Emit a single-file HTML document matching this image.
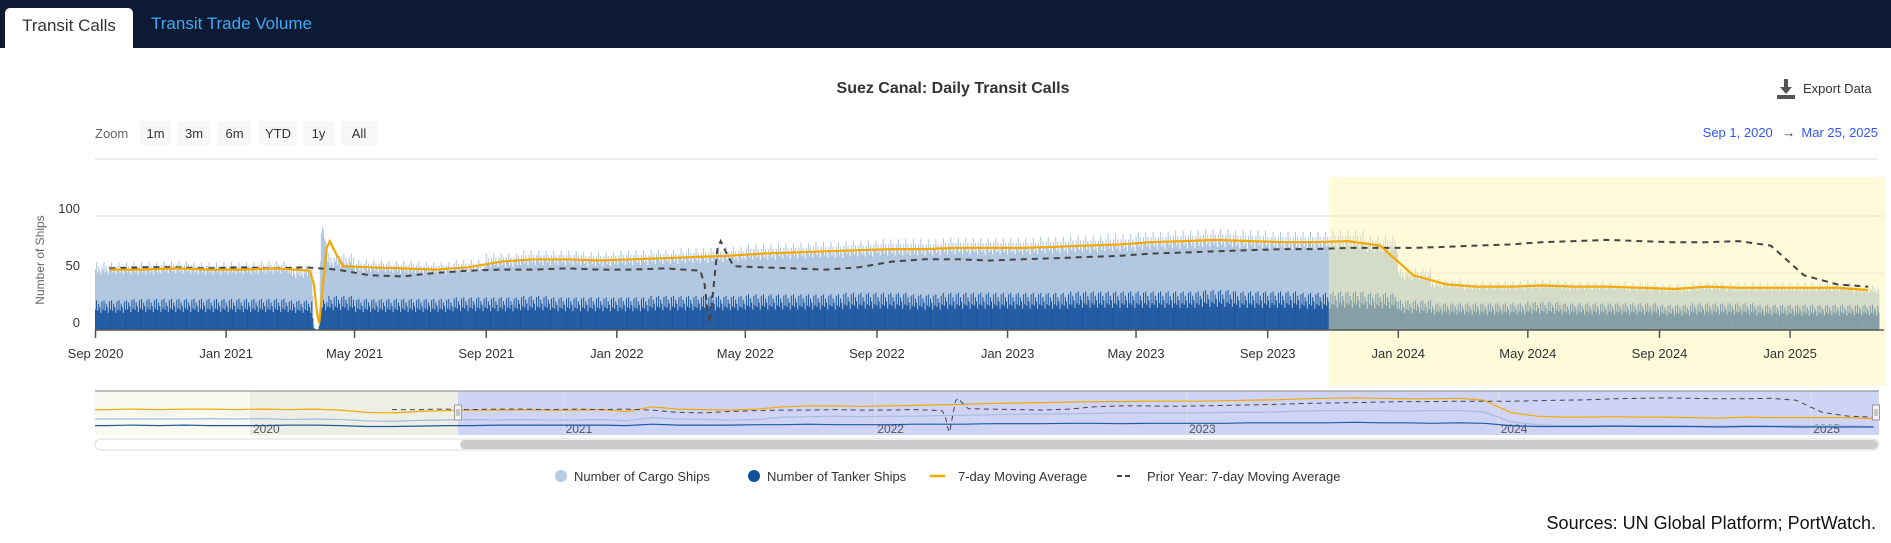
<!DOCTYPE html>
<html><head><meta charset="utf-8">
<style>
body{margin:0;width:1891px;height:543px;background:#fff;font-family:"Liberation Sans",sans-serif;overflow:hidden;position:relative}
.topbar{position:absolute;left:0;top:0;width:1891px;height:48px;background:#0c1a33}
.tab{position:absolute;top:0;height:48px;line-height:50px;font-size:17px}
.tab.active{left:5px;top:8px;height:40px;line-height:36px;width:128px;background:#fff;color:#333;border-radius:5px 5px 0 0;text-align:center}
.tab.other{left:151px;color:#3fa9f5;top:6px;line-height:36px}
svg{position:absolute;left:0;top:0}
</style></head><body>
<div class="topbar">
<div class="tab active">Transit Calls</div>
<div class="tab other">Transit Trade Volume</div>
</div>
<svg id="chart" width="1891" height="543" xmlns="http://www.w3.org/2000/svg" font-family="Liberation Sans, sans-serif">
<text x="953" y="93" text-anchor="middle" font-size="16" font-weight="bold" fill="#333">Suez Canal: Daily Transit Calls</text>
<g>
<path d="M1784 79 h4 v8 h4 l-6 7 l-6 -7 h4 z M1777 95 h18 v4 h-18 z" fill="#555"/>
<text x="1803" y="93" font-size="13" fill="#333">Export Data</text>
</g>
<text x="95" y="138" font-size="13" fill="#666">Zoom</text>
<g id="zoombtns"></g>
<text x="1878" y="137" text-anchor="end" font-size="13" fill="#3355ff">Sep 1, 2020 <tspan fill="#333" dx="6">→</tspan><tspan dx="6">Mar 25, 2025</tspan></text>
<line x1="95" y1="159" x2="1878" y2="159" stroke="#e6e6e6" stroke-width="1.5"/>
<g id="grid"></g>
<g id="bars"></g>
<rect id="hl" y="177" height="209" fill="rgb(255,245,170)" fill-opacity="0.45"/>
<g id="lines"></g>
<g id="axes"></g>
<g id="nav"></g>
<g id="legend"></g>
<text x="1876" y="529" text-anchor="end" font-size="18" fill="#111">Sources: UN Global Platform; PortWatch.</text>
</svg>
<script>
// Monthly 7-day-average total transits, Jun 2019 .. Mar 2025
const totalMonthly=[54,54,55,54,55,55,54,
55,54,55,53,48,47,50,52,53,53,54,53,
53,54,50,60,55,54,53,55,60,62,62,61,
62,63,64,65,67,68,69,70,71,71,72,72,
72,73,74,75,77,78,79,78,77,77,78,74,
48,40,38,38,39,38,38,37,36,38,37,37,
37,37,35];
// Monthly tanker transits, Jun 2019 .. Mar 2025
const tankerMonthly=[20,20,21,20,21,20,20,
20,21,21,20,18,18,19,20,20,21,21,21,
21,21,20,23,21,21,21,22,22,23,22,22,
22,23,23,23,24,24,24,25,25,24,25,25,
25,25,26,26,26,26,27,26,26,25,26,25,
20,18,18,18,19,18,18,18,17,18,18,17,
17,17,17];
// Day-of-week factors (read from weekly oscillation)
const dowTotal=[0.92,1.06,1.0,1.12,0.95,1.06,0.98];
const dowTanker=[0.75,1.25,0.9,1.3,0.85,1.15,1.0];
// Ever Given disruption daily totals (Mar 23 .. Apr 5, 2021)
const egDates=["2021-03-23","2021-03-24","2021-03-25","2021-03-26","2021-03-27","2021-03-28","2021-03-29","2021-03-30","2021-03-31","2021-04-01","2021-04-02","2021-04-03","2021-04-04","2021-04-05"];
const egTotals=[30,5,2,0,0,0,10,60,85,90,88,80,78,70];
// 7-day MA points around the disruption
const maEvtDates=["2021-03-20","2021-03-24","2021-03-27","2021-03-29","2021-04-01","2021-04-05","2021-04-08","2021-04-12","2021-04-20"];
const maEvtValues=[52,40,14,6,35,72,78,70,56];
const yTicks=[0,50,100];
const xTickLabels=["Sep 2020","Jan 2021","May 2021","Sep 2021","Jan 2022","May 2022","Sep 2022","Jan 2023","May 2023","Sep 2023","Jan 2024","May 2024","Sep 2024","Jan 2025"];
const xTickDates=["2020-09-01","2021-01-01","2021-05-01","2021-09-01","2022-01-01","2022-05-01","2022-09-01","2023-01-01","2023-05-01","2023-09-01","2024-01-01","2024-05-01","2024-09-01","2025-01-01"];
const navYears=["2020","2021","2022","2023","2024","2025"];
const zoomButtons=["1m","3m","6m","YTD","1y","All"];

const NS="http://www.w3.org/2000/svg";
const DAY=86400000;
const T0=Date.UTC(2020,8,1), TEND=Date.UTC(2025,2,25), N0=Date.UTC(2020,0,1);
const HL0=Date.UTC(2023,9,28);
function pd(s){const p=s.split('-');return Date.UTC(+p[0],+p[1]-1,+p[2]);}
function X(t){return 95.5+(t-T0)/DAY*1.0705;}
function Y(v){return 330-v*1.14;}
function XN(t){return Math.max(95,251+(t-N0)/DAY*0.854);}
function YN(v){return 435-v*0.47;}
function mk(tag,attrs,parent){const e=document.createElementNS(NS,tag);for(const k in attrs)e.setAttribute(k,attrs[k]);parent.appendChild(e);return e;}
function monthIdx(t){const d=new Date(t);return (d.getUTCFullYear()-2019)*12+d.getUTCMonth()-5;}
function mid(i){return Date.UTC(2019,5+i,15);}

const zx=[140,178,218,259,303,341],zw=[31,32,33,38,31,36];
const zb=document.getElementById('zoombtns');
zoomButtons.forEach((b,i)=>{const g=mk('g',{},zb);


mk('rect',{x:zx[i],y:121,width:zw[i],height:24,fill:'#f7f7f7'},g);
const t=mk('text',{x:zx[i]+zw[i]/2,y:138,'text-anchor':'middle','font-size':13,fill:'#333'},g);t.textContent=b;});

const grid=document.getElementById('grid');
yTicks.forEach(v=>{
 if(v>0){const l=mk('line',{x1:95,x2:1884,y1:Y(v),y2:Y(v),stroke:v==100?'#e6e6e6':'#eeeeee','stroke-width':1.5},grid);
 
 }
 const t=mk('text',{x:80,y:Y(v)-3,'text-anchor':'end','font-size':13,fill:'#333'},grid);t.textContent=v;
 
 
});
const yt=mk('text',{x:0,y:0,transform:'translate(44,260) rotate(-90)','text-anchor':'middle','font-size':12,fill:'#666'},grid);
yt.textContent='Number of Ships';



const egMap={};egDates.forEach((d,i)=>egMap[pd(d)]=egTotals[i]);
const bars=document.getElementById('bars');
let light='',dark='';
for(let t=T0;t<=TEND;t+=DAY){
 const mi=monthIdx(t),dw=new Date(t).getUTCDay();
 let tot=totalMonthly[mi]*dowTotal[dw];
 let tk=tankerMonthly[mi]*dowTanker[dw];
 if(egMap[t]!==undefined){tot=egMap[t];tk=Math.min(tk,tot*0.35);}
 const x=X(t).toFixed(2);
 light+=`M${x} ${Y(0)}V${Y(tot).toFixed(1)}`;
 dark+=`M${x} ${Y(0)}V${Y(tk).toFixed(1)}`;
}
const pl=mk('path',{d:light,stroke:'#b0c6e0','stroke-width':1.05,fill:'none'},bars);


const pk=mk('path',{d:dark,stroke:'#1a55a0','stroke-width':1.0,fill:'none'},bars);



const hl=document.getElementById('hl');hl.setAttribute('x',X(HL0));hl.setAttribute('width',1886-X(HL0));

let maPts=[];
totalMonthly.forEach((v,i)=>{const t=mid(i);if(!(t>Date.UTC(2021,2,10)&&t<Date.UTC(2021,3,25)))maPts.push([t,v]);});
maEvtDates.forEach((d,i)=>maPts.push([pd(d),maEvtValues[i]]));
maPts.sort((a,b)=>a[0]-b[0]);
const priorPts=maPts.map(p=>[p[0]+365*DAY,p[1]]);
function clipPath(pts,fx,fy,lo,hi){let s='';let first=true;pts.forEach(p=>{if(p[0]<lo||p[0]>hi)return;s+=(first?'M':'L')+fx(p[0]).toFixed(1)+' '+fy(p[1]).toFixed(1);first=false;});return s;}
const lines=document.getElementById('lines');
const hi=TEND;
const pp=mk('path',{d:clipPath(priorPts,X,Y,T0,hi),stroke:'#444','stroke-width':2,fill:'none','stroke-dasharray':'6,5'},lines);


const mp=mk('path',{d:clipPath(maPts,X,Y,T0,hi),stroke:'#f5a800','stroke-width':2.2,fill:'none'},lines);



const axes=document.getElementById('axes');
mk('line',{x1:95,x2:1884,y1:330,y2:330,stroke:'#555','stroke-width':1.5},axes);
xTickDates.forEach((d,i)=>{const x=X(pd(d));
 mk('line',{x1:x,x2:x,y1:330,y2:338,stroke:'#555','stroke-width':1.5},axes);
 const t=mk('text',{x:x,y:358,'text-anchor':'middle','font-size':13,fill:'#333'},axes);t.textContent=xTickLabels[i];
 
 
});

const nav=document.getElementById('nav');


mk('rect',{x:95,y:391,width:156,height:44,fill:'#fbfaf2'},nav);
mk('rect',{x:251,y:391,width:207,height:44,fill:'#eeeee6'},nav);
mk('rect',{x:458,y:391,width:1421,height:44,fill:'#cfd4f7'},nav);
const NS0=Date.UTC(2019,5,1);
navYears.forEach(y=>{const x=XN(Date.UTC(+y,0,1));
 mk('line',{x1:x,x2:x,y1:391,y2:435,stroke:'#e2e2e2'},nav);
 const t=mk('text',{x:x+2,y:433,'font-size':12,fill:'#555'},nav);t.textContent=y;});
const navTot=totalMonthly.map((v,i)=>[mid(i),v]);
const navTk=tankerMonthly.map((v,i)=>[mid(i),v]);
const navCg=totalMonthly.map((v,i)=>[mid(i),v-tankerMonthly[i]]);
mk('path',{d:clipPath(navCg,XN,YN,NS0,hi),stroke:'#a7bcd8','stroke-width':1.2,fill:'none'},nav);
mk('path',{d:clipPath(navTk,XN,YN,NS0,hi),stroke:'#1d5aa3','stroke-width':1.2,fill:'none'},nav);
mk('path',{d:clipPath(navTot,XN,YN,NS0,hi),stroke:'#f5a800','stroke-width':1.2,fill:'none'},nav);
mk('path',{d:clipPath(priorPts,XN,YN,N0,hi),stroke:'#444','stroke-width':1,fill:'none','stroke-dasharray':'5,4'},nav);
mk('line',{x1:95,x2:1879,y1:391,y2:391,stroke:'#999','stroke-width':1.2},nav);
[458,1876].forEach(x=>{mk('rect',{x:x-3.5,y:405,width:7,height:15,fill:'#f2f2f2',stroke:'#999'},nav);
 mk('line',{x1:x-1,x2:x-1,y1:409,y2:416,stroke:'#999'},nav);mk('line',{x1:x+1,x2:x+1,y1:409,y2:416,stroke:'#999'},nav);});
const sb=mk('rect',{x:95,y:439,width:1784,height:11,rx:5.5,fill:'#fff',stroke:'#ddd'},nav);


mk('rect',{x:460,y:440,width:1418,height:9,rx:4.5,fill:'#cccccc'},nav);

const lg=document.getElementById('legend');
const legendLabels=["Number of Cargo Ships","Number of Tanker Ships","7-day Moving Average","Prior Year: 7-day Moving Average"];
const lgx=[561,754,937,1124];
legendLabels.forEach((l,i)=>{const g=mk('g',{},lg);
 
 
 const x=lgx[i];
 if(i==0)mk('circle',{cx:x,cy:476,r:6,fill:'#b6cbe3'},g);
 if(i==1)mk('circle',{cx:x,cy:476,r:6,fill:'#0f4f9c'},g);
 if(i==2)mk('line',{x1:x-7,x2:x+8,y1:476,y2:476,stroke:'#f5a800','stroke-width':2.5},g);
 if(i==3)mk('line',{x1:x-7,x2:x+8,y1:476,y2:476,stroke:'#444','stroke-width':2,'stroke-dasharray':'5,3'},g);
 const t=mk('text',{x:x+(i<2?13:21)+(i==3?2:0),y:481,'font-size':13,fill:'#333'},g);t.textContent=l;});
</script>
</body></html>
